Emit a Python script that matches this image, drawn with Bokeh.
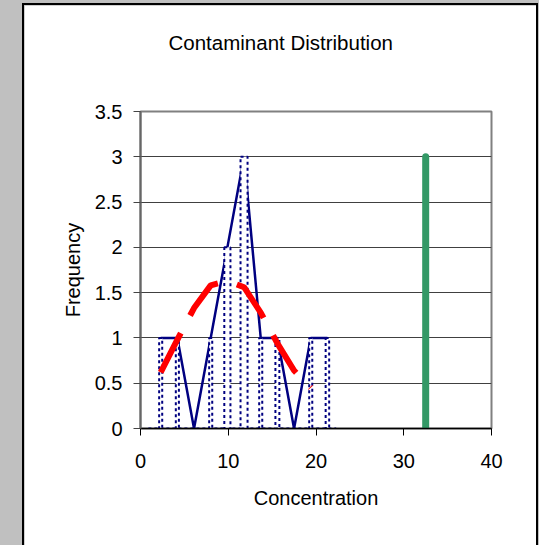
from bokeh.plotting import figure
from bokeh.models import Range1d, FixedTicker, NumeralTickFormatter, GlobalInlineStyleSheet
from bokeh.embed import file_html
from bokeh.resources import INLINE

# ---- data ----
title_text = "Contaminant Distribution"
x_label = "Concentration"
y_label = "Frequency"

bin_centers = [2.3, 4.2, 6.1, 8.0, 9.9, 11.8, 13.7, 15.6, 17.5, 19.4, 21.3]
counts = [1, 1, 0, 1, 2, 3, 1, 1, 0, 1, 1]
column_widths = [0.35, 0.35, 0.35, 0.35, 0.7, 0.8, 0.35, 0.45, 0.35, 0.35, 0.4]
baseline_x = [0.9, 22.3]
baseline_y = [0, 0]

normal_x = [2.3, 4.2, 6.1, 8.0, 9.9, 11.8, 13.7, 15.6, 17.5, 19.4]
normal_y = [0.62, 0.98, 1.33, 1.58, 1.63, 1.56, 1.28, 0.94, 0.64, 0.45]

marker_x = [32.5, 32.5]
marker_y = [0, 3]

x_ticks = [0, 10, 20, 30, 40]
y_ticks = [0, 0.5, 1, 1.5, 2, 2.5, 3, 3.5]

FONT = "Liberation Sans"

page_css = GlobalInlineStyleSheet(css="html, body { background: #c0c0c0; overflow: hidden; }")

p = figure(frame_width=351, frame_height=317,
           x_range=Range1d(0, 40), y_range=Range1d(0, 3.5),
           min_border_left=116, min_border_right=45,
           min_border_top=106, min_border_bottom=117,
           output_backend="svg", toolbar_location=None,
           background_fill_color="white", border_fill_color="white")
p.stylesheets = [page_css]
p.styles = {"margin-left": "22px", "margin-top": "3px", "border": "2px solid black"}

p.outline_line_color = "#808080"
p.outline_line_width = 2

# two empty trailing lines keep the title high above the plot frame
p.title.text = title_text + "\n\n"
p.title.text_font = FONT
p.title.text_font_size = "20.5px"
p.title.text_font_style = "normal"
p.title.text_color = "black"
p.title.align = "left"
p.title.offset = 28
p.title.vertical_align = "top"
p.title.standoff = 20

p.xgrid.visible = False
p.ygrid.grid_line_color = "#404040"
p.ygrid.grid_line_width = 1
p.ygrid.ticker = FixedTicker(ticks=y_ticks)

for ax in (p.xaxis[0], p.yaxis[0]):
    ax.major_label_text_font = FONT
    ax.major_label_text_font_size = "20px"
    ax.major_label_text_color = "black"
    ax.axis_label_text_font = FONT
    ax.axis_label_text_font_size = "20px"
    ax.axis_label_text_font_style = "normal"
    ax.axis_label_text_color = "black"
    ax.minor_tick_line_color = None
    ax.major_tick_in = 0
    ax.major_tick_out = 7

p.xaxis.ticker = FixedTicker(ticks=x_ticks)
p.yaxis.ticker = FixedTicker(ticks=y_ticks)
p.yaxis.formatter = NumeralTickFormatter(format="0.[0]")
p.xaxis.axis_label = x_label
p.yaxis.axis_label = y_label
p.xaxis.axis_line_color = "black"
p.xaxis.axis_line_width = 1.5
p.xaxis.major_tick_line_color = "black"
p.xaxis.major_label_standoff = 18
p.xaxis.axis_label_standoff = 16
p.yaxis.axis_line_color = "#666666"
p.yaxis.axis_line_width = 2
p.yaxis.major_tick_line_color = "#444444"
p.yaxis.major_label_standoff = 11
p.yaxis.axis_label_standoff = 8

# frequency polygon
p.line(bin_centers, counts, line_color="#000080", line_width=2.5)
# dotted histogram columns
p.line(baseline_x, baseline_y, line_color="#000080", line_width=2, line_dash="3 3")
p.vbar(x=bin_centers, width=column_widths, top=counts, bottom=0,
       fill_color="white", line_color="#000080", line_width=2, line_dash="3 3")
# fitted normal curve
p.line(normal_x, normal_y, line_color="#ff0000", line_width=6, line_dash="44 20")
# marker line
p.line(marker_x, marker_y, line_color="#339966", line_width=7, line_cap="round")

open("out.html", "w").write(file_html(p, INLINE))
